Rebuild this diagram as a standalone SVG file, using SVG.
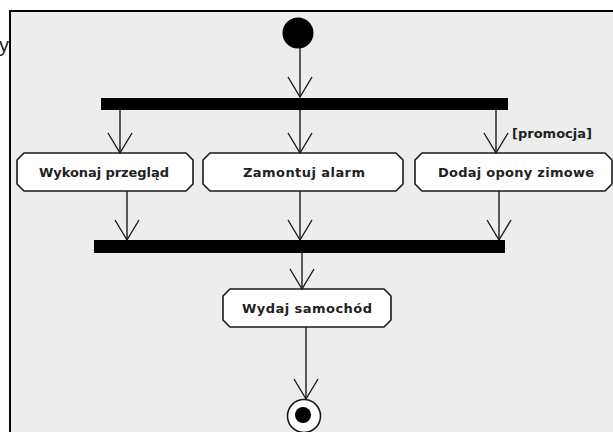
<svg xmlns="http://www.w3.org/2000/svg" width="613" height="432" viewBox="0 0 613 432">
  <style>
    .panel { fill: #ededed; stroke: #000; stroke-width: 2; }
    .bar { fill: #000; }
    .act { fill: #fff; stroke: #1a1a1a; stroke-width: 1.6; }
    .lbl { font-family: "DejaVu Sans", "Liberation Sans", sans-serif; font-size: 13px; font-weight: bold; fill: #222; dominant-baseline: central; text-anchor: middle; }
    .edge { stroke: #1a1a1a; stroke-width: 1.4; fill: none; }
    .head { stroke: #1a1a1a; stroke-width: 1.4; fill: none; }
  </style>
  <defs>
    <!-- open V arrowhead, drawn pointing along +x -->
    <marker id="open" viewBox="0 0 24 26" refX="22" refY="13" markerWidth="24" markerHeight="26" markerUnits="userSpaceOnUse" orient="auto">
      <path d="M2 1 L22 13 L2 25" class="head"/>
    </marker>
  </defs>

  <rect width="613" height="432" fill="#fff"/>
  <text x="-1" y="52" font-family="Liberation Sans, sans-serif" font-size="20" fill="#222">y</text>
  <rect class="panel" x="10" y="11" width="610" height="430"/>

  <!-- start node -->
  <g id="start">
    <circle cx="298" cy="33" r="15.5" fill="#000"/>
  </g>

  <!-- fork and join bars -->
  <g id="fork"><rect class="bar" x="101" y="98" width="407" height="12"/></g>
  <g id="join"><rect class="bar" x="94" y="240" width="411" height="13"/></g>

  <!-- actions -->
  <g id="wykonaj">
    <path class="act" d="M24 153 H186 L193 160 V184 L186 191 H24 L17 184 V160 Z"/>
    <text class="lbl" x="104" y="172" textLength="130" lengthAdjust="spacing">Wykonaj przegląd</text>
  </g>
  <g id="zamontuj">
    <path class="act" d="M210 153 H396 L403 160 V184 L396 191 H210 L203 184 V160 Z"/>
    <text class="lbl" x="304" y="172" textLength="122" lengthAdjust="spacing">Zamontuj alarm</text>
  </g>
  <g id="dodaj">
    <path class="act" d="M422 153 H605 L612 160 V184 L605 191 H422 L415 184 V160 Z"/>
    <text class="lbl" x="516" y="172" textLength="156" lengthAdjust="spacing">Dodaj opony zimowe</text>
  </g>
  <g id="wydaj">
    <path class="act" d="M230 289 H384 L391 296 V320 L384 327 H230 L223 320 V296 Z"/>
    <text class="lbl" x="307" y="308" textLength="130" lengthAdjust="spacing">Wydaj samochód</text>
  </g>

  <!-- end node -->
  <g id="end">
    <circle cx="304" cy="416" r="16.5" fill="#fff" stroke="#1a1a1a" stroke-width="1.6"/>
    <circle cx="303" cy="415" r="8" fill="#000"/>
  </g>

  <!-- connectors -->
  <g id="connectors">
    <line class="edge" x1="300" y1="48" x2="300" y2="97" marker-end="url(#open)"/>
    <line class="edge" x1="120" y1="110" x2="120" y2="153" marker-end="url(#open)"/>
    <line class="edge" x1="300" y1="110" x2="300" y2="153" marker-end="url(#open)"/>
    <line class="edge" x1="496" y1="110" x2="496" y2="153" marker-end="url(#open)"/>
    <text x="552" y="133" class="lbl" textLength="80" lengthAdjust="spacing">[promocja]</text>
    <line class="edge" x1="127" y1="191" x2="127" y2="240" marker-end="url(#open)"/>
    <line class="edge" x1="300" y1="191" x2="300" y2="240" marker-end="url(#open)"/>
    <line class="edge" x1="499" y1="191" x2="499" y2="240" marker-end="url(#open)"/>
    <line class="edge" x1="302" y1="253" x2="302" y2="289" marker-end="url(#open)"/>
    <line class="edge" x1="306" y1="327" x2="306" y2="399" marker-end="url(#open)"/>
  </g>
</svg>
